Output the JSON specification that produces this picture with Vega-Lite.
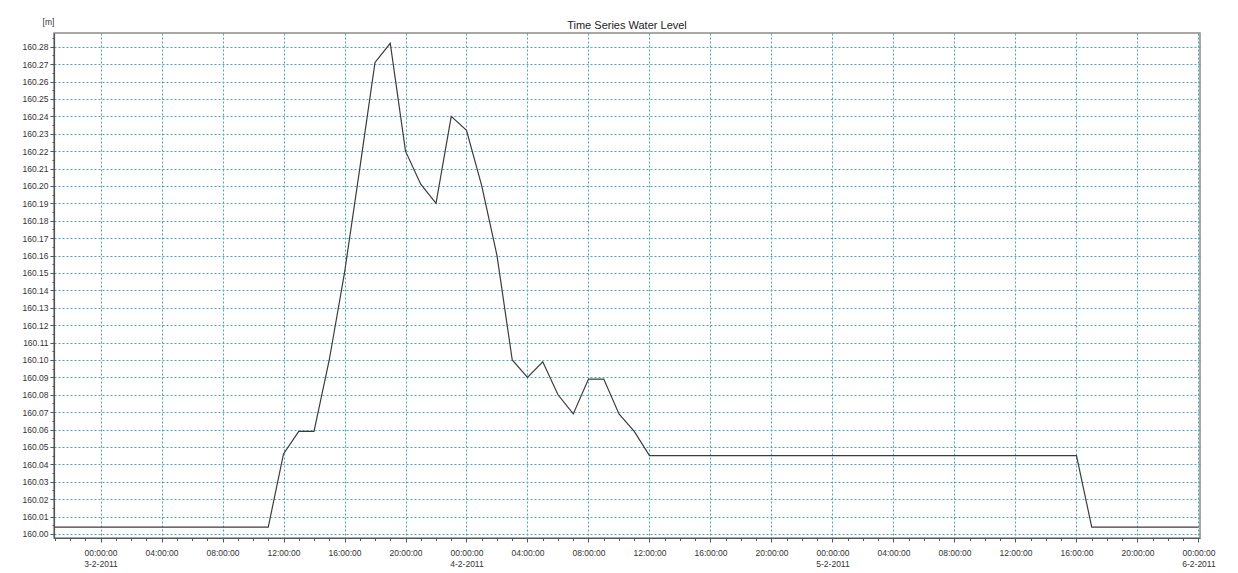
{
  "$schema": "https://vega.github.io/schema/vega-lite/v6.json",
  "width": 1146,
  "height": 505,
  "autosize": "none",
  "padding": {"left": 54, "top": 33, "right": 38, "bottom": 35},
  "background": "white",
  "title": {
    "text": "Time Series Water Level",
    "anchor": "middle",
    "offset": 5,
    "dy": 19,
    "fontSize": 11,
    "fontWeight": "normal",
    "color": "#222222"
  },
  "data": {
    "values": [
      {"t": "2011-02-02T21:00:00Z", "level": 160.004},
      {"t": "2011-02-02T22:00:00Z", "level": 160.004},
      {"t": "2011-02-02T23:00:00Z", "level": 160.004},
      {"t": "2011-02-03T00:00:00Z", "level": 160.004},
      {"t": "2011-02-03T01:00:00Z", "level": 160.004},
      {"t": "2011-02-03T02:00:00Z", "level": 160.004},
      {"t": "2011-02-03T03:00:00Z", "level": 160.004},
      {"t": "2011-02-03T04:00:00Z", "level": 160.004},
      {"t": "2011-02-03T05:00:00Z", "level": 160.004},
      {"t": "2011-02-03T06:00:00Z", "level": 160.004},
      {"t": "2011-02-03T07:00:00Z", "level": 160.004},
      {"t": "2011-02-03T08:00:00Z", "level": 160.004},
      {"t": "2011-02-03T09:00:00Z", "level": 160.004},
      {"t": "2011-02-03T10:00:00Z", "level": 160.004},
      {"t": "2011-02-03T11:00:00Z", "level": 160.004},
      {"t": "2011-02-03T12:00:00Z", "level": 160.046},
      {"t": "2011-02-03T13:00:00Z", "level": 160.059},
      {"t": "2011-02-03T14:00:00Z", "level": 160.059},
      {"t": "2011-02-03T15:00:00Z", "level": 160.100},
      {"t": "2011-02-03T16:00:00Z", "level": 160.150},
      {"t": "2011-02-03T17:00:00Z", "level": 160.210},
      {"t": "2011-02-03T18:00:00Z", "level": 160.271},
      {"t": "2011-02-03T19:00:00Z", "level": 160.282},
      {"t": "2011-02-03T20:00:00Z", "level": 160.220},
      {"t": "2011-02-03T21:00:00Z", "level": 160.201},
      {"t": "2011-02-03T22:00:00Z", "level": 160.190},
      {"t": "2011-02-03T23:00:00Z", "level": 160.240},
      {"t": "2011-02-04T00:00:00Z", "level": 160.232},
      {"t": "2011-02-04T01:00:00Z", "level": 160.200},
      {"t": "2011-02-04T02:00:00Z", "level": 160.160},
      {"t": "2011-02-04T03:00:00Z", "level": 160.100},
      {"t": "2011-02-04T04:00:00Z", "level": 160.090},
      {"t": "2011-02-04T05:00:00Z", "level": 160.099},
      {"t": "2011-02-04T06:00:00Z", "level": 160.080},
      {"t": "2011-02-04T07:00:00Z", "level": 160.069},
      {"t": "2011-02-04T08:00:00Z", "level": 160.089},
      {"t": "2011-02-04T09:00:00Z", "level": 160.089},
      {"t": "2011-02-04T10:00:00Z", "level": 160.069},
      {"t": "2011-02-04T11:00:00Z", "level": 160.059},
      {"t": "2011-02-04T12:00:00Z", "level": 160.045},
      {"t": "2011-02-04T13:00:00Z", "level": 160.045},
      {"t": "2011-02-04T14:00:00Z", "level": 160.045},
      {"t": "2011-02-04T15:00:00Z", "level": 160.045},
      {"t": "2011-02-04T16:00:00Z", "level": 160.045},
      {"t": "2011-02-04T17:00:00Z", "level": 160.045},
      {"t": "2011-02-04T18:00:00Z", "level": 160.045},
      {"t": "2011-02-04T19:00:00Z", "level": 160.045},
      {"t": "2011-02-04T20:00:00Z", "level": 160.045},
      {"t": "2011-02-04T21:00:00Z", "level": 160.045},
      {"t": "2011-02-04T22:00:00Z", "level": 160.045},
      {"t": "2011-02-04T23:00:00Z", "level": 160.045},
      {"t": "2011-02-05T00:00:00Z", "level": 160.045},
      {"t": "2011-02-05T01:00:00Z", "level": 160.045},
      {"t": "2011-02-05T02:00:00Z", "level": 160.045},
      {"t": "2011-02-05T03:00:00Z", "level": 160.045},
      {"t": "2011-02-05T04:00:00Z", "level": 160.045},
      {"t": "2011-02-05T05:00:00Z", "level": 160.045},
      {"t": "2011-02-05T06:00:00Z", "level": 160.045},
      {"t": "2011-02-05T07:00:00Z", "level": 160.045},
      {"t": "2011-02-05T08:00:00Z", "level": 160.045},
      {"t": "2011-02-05T09:00:00Z", "level": 160.045},
      {"t": "2011-02-05T10:00:00Z", "level": 160.045},
      {"t": "2011-02-05T11:00:00Z", "level": 160.045},
      {"t": "2011-02-05T12:00:00Z", "level": 160.045},
      {"t": "2011-02-05T13:00:00Z", "level": 160.045},
      {"t": "2011-02-05T14:00:00Z", "level": 160.045},
      {"t": "2011-02-05T15:00:00Z", "level": 160.045},
      {"t": "2011-02-05T16:00:00Z", "level": 160.045},
      {"t": "2011-02-05T17:00:00Z", "level": 160.004},
      {"t": "2011-02-05T18:00:00Z", "level": 160.004},
      {"t": "2011-02-05T19:00:00Z", "level": 160.004},
      {"t": "2011-02-05T20:00:00Z", "level": 160.004},
      {"t": "2011-02-05T21:00:00Z", "level": 160.004},
      {"t": "2011-02-05T22:00:00Z", "level": 160.004},
      {"t": "2011-02-05T23:00:00Z", "level": 160.004},
      {"t": "2011-02-06T00:00:00Z", "level": 160.004}
    ]
  },
  "resolve": {"axis": {"x": "independent", "y": "independent"}},
  "layer": [
    {
      "mark": {"type": "line", "color": "#3c3c3c", "strokeWidth": 1.2},
      "encoding": {
        "x": {
          "field": "t",
          "type": "temporal",
          "title": null,
          "scale": {"type": "utc", "domain": [1296680220000, 1296950760000], "nice": false},
          "axis": {
            "orient": "bottom",
            "tickCount": 76,
            "labels": false,
            "grid": false,
            "tickSize": 2.5,
            "tickColor": "#555555",
            "domainColor": "#555555",
            "domainWidth": 1.2
          }
        },
        "y": {
          "field": "level",
          "type": "quantitative",
          "scale": {"domain": [159.9977, 160.2879], "nice": false, "zero": false},
          "axis": {
            "orient": "left",
            "title": "[m]",
            "titleAngle": 0,
            "titleX": -6,
            "titleY": -7,
            "titleFontSize": 8.5,
            "titleFontWeight": "normal",
            "titleColor": "#333333",
            "values": [160, 160.005, 160.01, 160.015, 160.02, 160.025, 160.03, 160.035, 160.04, 160.045, 160.05, 160.055, 160.06, 160.065, 160.07, 160.075, 160.08, 160.085, 160.09, 160.095, 160.1, 160.105, 160.11, 160.115, 160.12, 160.125, 160.13, 160.135, 160.14, 160.145, 160.15, 160.155, 160.16, 160.165, 160.17, 160.175, 160.18, 160.185, 160.19, 160.195, 160.2, 160.205, 160.21, 160.215, 160.22, 160.225, 160.23, 160.235, 160.24, 160.245, 160.25, 160.255, 160.26, 160.265, 160.27, 160.275, 160.28, 160.285],
            "labels": false,
            "grid": false,
            "tickSize": 2,
            "tickColor": "#555555",
            "domainColor": "#555555",
            "domainWidth": 1.2
          }
        }
      }
    },
    {
      "mark": {"type": "line", "opacity": 0},
      "encoding": {
        "x": {
          "field": "t",
          "type": "temporal",
          "title": null,
          "scale": {"type": "utc", "domain": [1296680220000, 1296950760000], "nice": false},
          "axis": {
            "orient": "bottom",
            "values": [1296691200000, 1296705600000, 1296720000000, 1296734400000, 1296748800000, 1296763200000, 1296777600000, 1296792000000, 1296806400000, 1296820800000, 1296835200000, 1296849600000, 1296864000000, 1296878400000, 1296892800000, 1296907200000, 1296921600000, 1296936000000, 1296950400000],
            "labelExpr": "utcFormat(datum.value, '%H:%M:%S')",
            "labelOverlap": false,
            "labelFont": "Liberation Sans",
            "labelFontSize": 8.5,
            "labelColor": "#333333",
            "labelPadding": 6,
            "tickSize": 4,
            "tickColor": "#555555",
            "domain": false,
            "grid": true,
            "gridColor": "#4aa3c0",
            "gridDash": [2, 2],
            "gridOpacity": 1
          }
        },
        "y": {
          "field": "level",
          "type": "quantitative",
          "scale": {"domain": [159.9977, 160.2879], "nice": false, "zero": false},
          "axis": {
            "orient": "left",
            "title": null,
            "values": [160, 160.01, 160.02, 160.03, 160.04, 160.05, 160.06, 160.07, 160.08, 160.09, 160.1, 160.11, 160.12, 160.13, 160.14, 160.15, 160.16, 160.17, 160.18, 160.19, 160.2, 160.21, 160.22, 160.23, 160.24, 160.25, 160.26, 160.27, 160.28],
            "format": ".2f",
            "labelFont": "Liberation Sans",
            "labelFontSize": 8.5,
            "labelColor": "#333333",
            "labelPadding": 2,
            "tickSize": 4,
            "tickColor": "#555555",
            "domain": false,
            "grid": true,
            "gridColor": "#4aa3c0",
            "gridDash": [2, 2],
            "gridOpacity": 1
          }
        }
      }
    },
    {
      "mark": {"type": "line", "opacity": 0},
      "encoding": {
        "x": {
          "field": "t",
          "type": "temporal",
          "title": null,
          "scale": {"type": "utc", "domain": [1296680220000, 1296950760000], "nice": false},
          "axis": {
            "orient": "bottom",
            "values": [1296691200000, 1296777600000, 1296864000000, 1296950400000],
            "labelExpr": "utcFormat(datum.value, '%-d-%-m-%Y')",
            "labelOverlap": false,
            "labelFont": "Liberation Sans",
            "labelFontSize": 8.5,
            "labelColor": "#333333",
            "labelPadding": 21,
            "tickSize": 0,
            "tickOpacity": 0,
            "domain": false,
            "grid": false
          }
        },
        "y": {
          "field": "level",
          "type": "quantitative",
          "scale": {"domain": [159.9977, 160.2879], "nice": false, "zero": false},
          "axis": null
        }
      }
    }
  ],
  "config": {
    "view": {"stroke": "#8c8c8c", "strokeWidth": 1.5}
  }
}
